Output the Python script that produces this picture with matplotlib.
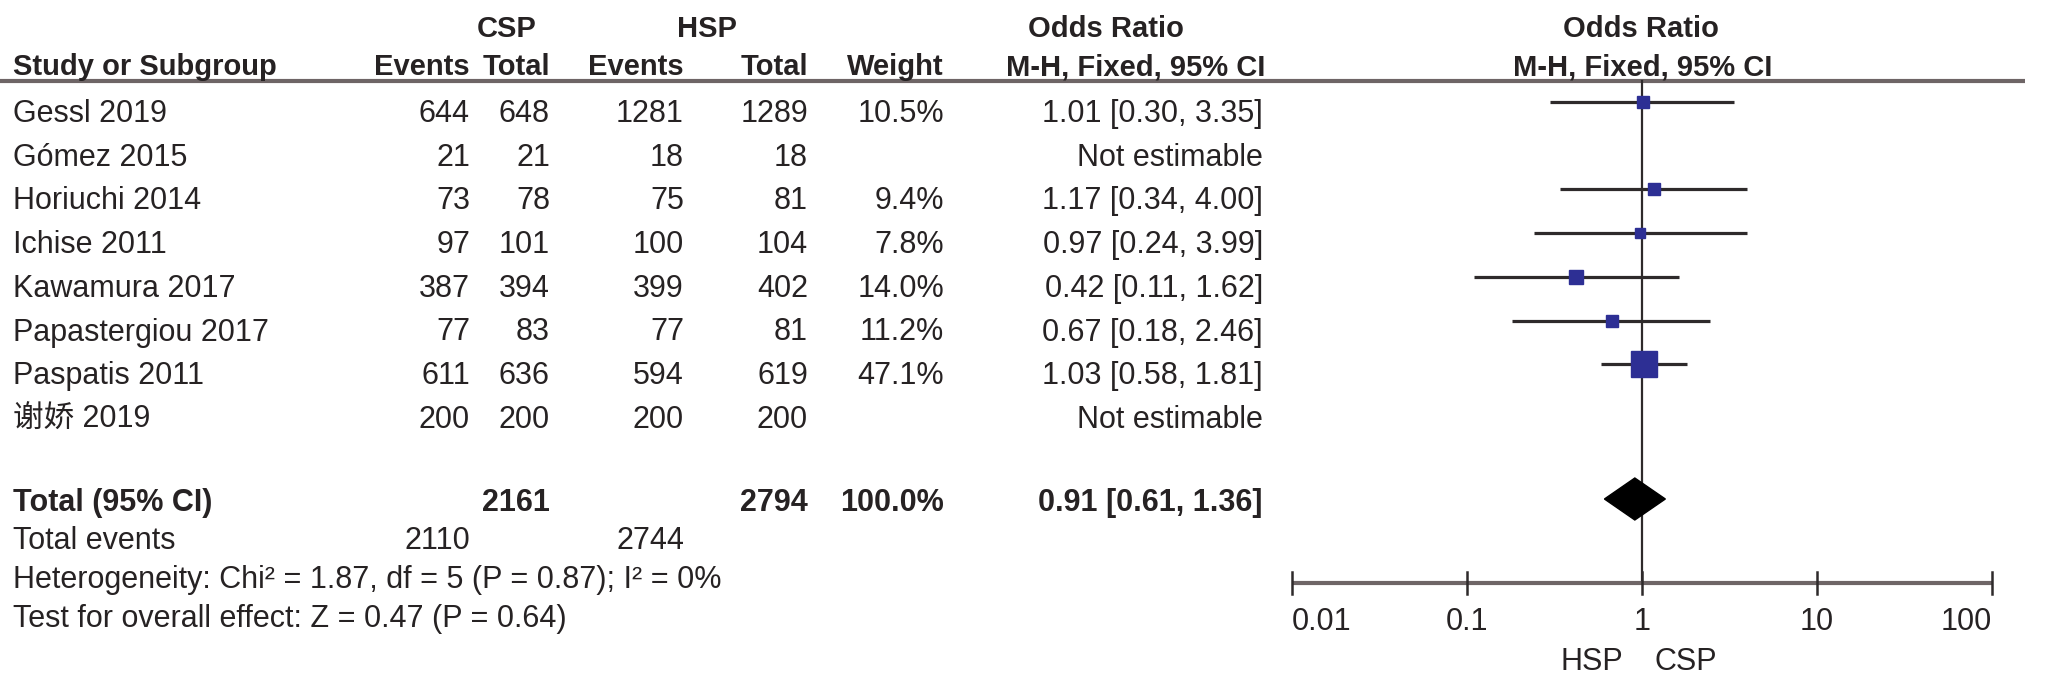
'''
Forest plot: CSP vs HSP, odds ratio (M-H, fixed, 95% CI)
Table on the left, forest on the right, drawn on a pixel layout axes
'''

import numpy as np
import matplotlib.pyplot as plt

# ---- data ----
studies = ['Gessl 2019', 'Gómez 2015', 'Horiuchi 2014', 'Ichise 2011',
           'Kawamura 2017', 'Papastergiou 2017', 'Paspatis 2011', '谢娇 2019']
csp_events = [644, 21, 73, 97, 387, 77, 611, 200]
csp_total = [648, 21, 78, 101, 394, 83, 636, 200]
hsp_events = [1281, 18, 75, 100, 399, 77, 594, 200]
hsp_total = [1289, 18, 81, 104, 402, 81, 619, 200]
weights = [10.5, np.nan, 9.4, 7.8, 14.0, 11.2, 47.1, np.nan]
odds_ratio = [1.01, np.nan, 1.17, 0.97, 0.42, 0.67, 1.03, np.nan]
ci_low = [0.30, np.nan, 0.34, 0.24, 0.11, 0.18, 0.58, np.nan]
ci_high = [3.35, np.nan, 4.00, 3.99, 1.62, 2.46, 1.81, np.nan]

total_or = 0.91
total_ci = [0.61, 1.36]
heterogeneity = 'Heterogeneity: Chi² = 1.87, df = 5 (P = 0.87); I² = 0%'
overall_effect = 'Test for overall effect: Z = 0.47 (P = 0.64)'
axis_ticks = [0.01, 0.1, 1, 10, 100]
axis_labels = ['0.01', '0.1', '1', '10', '100']

# ---- layout (pixels) ----
W, H = 2053, 674
FONT = ['Liberation Sans', 'Noto Sans CJK SC']
FS = 22
FS_HEAD = 21
TEXT_COLOR = '#262223'
LINE_COLOR = '#6e6566'
CI_COLOR = '#2e2a2b'
SQ_COLOR = '#2d2f94'

X_FOREST = (1292, 1992)      # 0.01 .. 100
ROW_MARK0, ROW_TEXT0, ROW_H = 102, 122, 43.7
HEAD_LINE_Y = 81
AXIS_Y = 583
TOTAL_Y = 499

COL_CSP_EV, COL_CSP_TOT = 470, 550
COL_HSP_EV, COL_HSP_TOT = 684, 808
COL_WEIGHT, COL_OR = 944, 1263


def put(ax, x, y, s, ha='right', bold=False, size=FS):
    ax.text(x, y, s, ha=ha, va='baseline', fontsize=size, family=FONT,
            fontweight='bold' if bold else 'normal', color=TEXT_COLOR)


def head(ax, x, y, s, ha='right'):
    put(ax, x, y, s, ha=ha, bold=True, size=FS_HEAD)


def fmt_or(o, lo, hi):
    if np.isnan(o):
        return 'Not estimable'
    return f'{o:.2f} [{lo:.2f}, {hi:.2f}]'


def main():
    fig = plt.figure(figsize=(W / 100, H / 100), dpi=100, facecolor='white')

    ax = fig.add_axes([0, 0, 1, 1])
    ax.set_xlim(0, W)
    ax.set_ylim(H, 0)
    ax.axis('off')

    # header
    head(ax, 507, 37, 'CSP', ha='center')
    head(ax, 707, 37, 'HSP', ha='center')
    head(ax, 1106, 37, 'Odds Ratio', ha='center')
    head(ax, 1641, 37, 'Odds Ratio', ha='center')
    head(ax, 13, 75, 'Study or Subgroup', ha='left')
    head(ax, COL_CSP_EV, 75, 'Events')
    head(ax, COL_CSP_TOT, 75, 'Total')
    head(ax, COL_HSP_EV, 75, 'Events')
    head(ax, COL_HSP_TOT, 75, 'Total')
    head(ax, COL_WEIGHT, 75, 'Weight')
    head(ax, 1265, 75, 'M-H, Fixed, 95% CI')
    head(ax, 1643, 75, 'M-H, Fixed, 95% CI', ha='center')
    ax.plot([0, 2025], [HEAD_LINE_Y, HEAD_LINE_Y], color=LINE_COLOR, lw=3,
            solid_capstyle='butt')

    # study rows
    for i, name in enumerate(studies):
        y = ROW_TEXT0 + i * ROW_H
        put(ax, 13, y, name, ha='left')
        put(ax, COL_CSP_EV, y, str(csp_events[i]))
        put(ax, COL_CSP_TOT, y, str(csp_total[i]))
        put(ax, COL_HSP_EV, y, str(hsp_events[i]))
        put(ax, COL_HSP_TOT, y, str(hsp_total[i]))
        if not np.isnan(weights[i]):
            put(ax, COL_WEIGHT, y, f'{weights[i]:.1f}%')
        put(ax, COL_OR, y, fmt_or(odds_ratio[i], ci_low[i], ci_high[i]))

    # totals and footer
    put(ax, 13, 511, 'Total (95% CI)', ha='left', bold=True)
    put(ax, COL_CSP_TOT, 511, str(sum(csp_total)), bold=True)
    put(ax, COL_HSP_TOT, 511, str(sum(hsp_total)), bold=True)
    put(ax, COL_WEIGHT, 511, f'{np.nansum(weights):.1f}%', bold=True)
    put(ax, COL_OR, 511, fmt_or(total_or, *total_ci), bold=True)
    put(ax, 13, 549, 'Total events', ha='left')
    put(ax, COL_CSP_EV, 549, str(sum(csp_events)))
    put(ax, COL_HSP_EV, 549, str(sum(hsp_events)))
    put(ax, 13, 588, heterogeneity, ha='left')
    put(ax, 13, 627, overall_effect, ha='left')
    put(ax, 1623, 670, 'HSP', ha='right')
    put(ax, 1655, 670, 'CSP', ha='left')

    # forest
    axf = fig.add_axes([X_FOREST[0] / W, 0, (X_FOREST[1] - X_FOREST[0]) / W, 1])
    axf.set_xscale('log')
    axf.set_xlim(axis_ticks[0], axis_ticks[-1])
    axf.set_ylim(H, 0)
    axf.axis('off')

    axf.plot([1, 1], [HEAD_LINE_Y, AXIS_Y], color=CI_COLOR, lw=1.6, zorder=2)
    max_w = np.nanmax(weights)
    for i in range(len(studies)):
        if np.isnan(odds_ratio[i]):
            continue
        y = ROW_MARK0 + i * ROW_H
        axf.plot([ci_low[i], ci_high[i]], [y, y], color=CI_COLOR, lw=2.3,
                 solid_capstyle='butt', zorder=3)
        side_px = 26 * np.sqrt(weights[i] / max_w)
        axf.plot([odds_ratio[i]], [y], marker='s', ms=side_px * 0.72,
                 color=SQ_COLOR, mec=SQ_COLOR, zorder=4)

    axf.fill([total_ci[0], total_or, total_ci[1], total_or],
             [TOTAL_Y, TOTAL_Y - 21, TOTAL_Y, TOTAL_Y + 21],
             color='black', zorder=4)

    axf.plot([axis_ticks[0], axis_ticks[-1]], [AXIS_Y, AXIS_Y],
             color=LINE_COLOR, lw=3, solid_capstyle='butt', clip_on=False)
    for k, (t, lab) in enumerate(zip(axis_ticks, axis_labels)):
        axf.plot([t, t], [AXIS_Y - 11, AXIS_Y + 11], color=CI_COLOR, lw=1.8,
                 clip_on=False)
        ha = 'left' if k == 0 else ('right' if k == len(axis_ticks) - 1 else 'center')
        axf.text(t, 630, lab, ha=ha, va='baseline', fontsize=FS, family=FONT,
                 color=TEXT_COLOR)

    fig.savefig('out.png', dpi=100, facecolor='white')


if __name__ == "__main__":
    main()
